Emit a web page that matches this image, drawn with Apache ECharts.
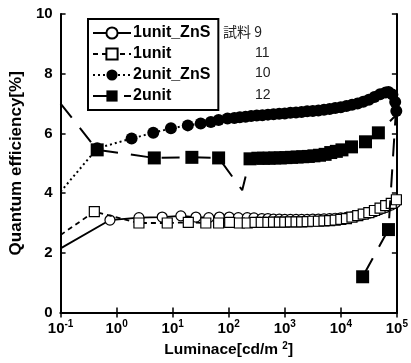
<!DOCTYPE html>
<html>
<head>
<meta charset="utf-8">
<script src="https://cdn.jsdelivr.net/npm/echarts@6/dist/echarts.min.js"></script>
<style>html,body{margin:0;padding:0;background:#fff;}#c{width:411px;height:363px;}</style>
</head>
<body>
<div id="c"></div>
<script>
// ---- data ----
var seriesNames = ['1unit_ZnS', '1unit', '2unit_ZnS', '2unit'];
var sampleLabels = ['試料 9', '11', '10', '12'];
var yTicks = [0, 2, 4, 6, 8, 10];

var u1znsX = [0.1, 0.76, 2.5, 6.5, 14, 26, 44, 68, 102, 148, 214, 282, 390, 500, 630, 800, 1000, 1260, 1590, 2000, 2510, 3160, 3980, 5010, 6310, 7940, 10000, 12600, 15800, 20000, 25100, 31600, 39800, 50100, 63100, 79400, 95000];
var u1znsY = [2.15, 3.1, 3.18, 3.2, 3.24, 3.2, 3.18, 3.2, 3.2, 3.18, 3.18, 3.17, 3.15, 3.15, 3.13, 3.13, 3.12, 3.12, 3.12, 3.12, 3.12, 3.13, 3.13, 3.14, 3.15, 3.16, 3.17, 3.19, 3.21, 3.24, 3.28, 3.33, 3.38, 3.45, 3.52, 3.6, 3.68];
var u1znsNoMark = [0];

var u1X = [0.1, 0.4, 2.5, 8, 19, 39, 66, 104, 155, 214, 295, 380, 500, 630, 800, 1000, 1260, 1590, 2000, 2510, 3160, 3980, 5010, 6310, 7940, 10000, 12600, 15800, 20000, 25100, 31600, 39800, 50100, 63100, 79400, 98000];
var u1Y = [2.6, 3.38, 3.0, 3.0, 3.02, 3.0, 3.0, 3.02, 3.0, 3.0, 3.02, 3.02, 3.02, 3.03, 3.03, 3.03, 3.04, 3.04, 3.04, 3.05, 3.06, 3.06, 3.07, 3.08, 3.1, 3.12, 3.15, 3.2, 3.25, 3.3, 3.35, 3.42, 3.5, 3.58, 3.66, 3.78];
var u1NoMark = [0];

var u2znsX = [0.1, 0.45, 1.85, 4.5, 9.3, 18.6, 31.6, 48, 66, 95, 126, 158, 200, 251, 316, 398, 501, 631, 794, 1000, 1259, 1585, 1995, 2512, 3162, 3981, 5012, 6310, 7943, 10000, 12589, 15849, 19953, 25119, 31623, 39811, 50119, 63096, 70795, 83176, 93325, 97724];
var u2znsY = [4.05, 5.5, 5.83, 6.02, 6.17, 6.27, 6.33, 6.38, 6.45, 6.5, 6.52, 6.54, 6.56, 6.58, 6.6, 6.61, 6.63, 6.64, 6.66, 6.67, 6.69, 6.7, 6.72, 6.74, 6.75, 6.77, 6.79, 6.82, 6.85, 6.88, 6.92, 6.96, 7.0, 7.06, 7.13, 7.22, 7.31, 7.37, 7.39, 7.3, 7.05, 6.75];
var u2znsNoMark = [0];

var u2X = [0.1, 0.45, 4.7, 22, 66, 174, 240, 331, 417, 525, 661, 832, 1047, 1318, 1660, 2089, 2630, 3311, 4169, 5248, 6607, 8318, 10471, 15488, 27542, 46774, 95000, 70800, 24500];
var u2Y = [7.0, 5.45, 5.18, 5.2, 5.18, 4.1, 5.15, 5.17, 5.17, 5.17, 5.18, 5.18, 5.19, 5.2, 5.21, 5.22, 5.23, 5.25, 5.27, 5.3, 5.36, 5.4, 5.45, 5.55, 5.72, 6.02, 6.6, 2.78, 1.2];
var u2NoMark = [0, 5, 26];

function build(xs, ys, noMark) {
  return xs.map(function (x, i) {
    var d = { value: [x, ys[i]] };
    if (noMark.indexOf(i) >= 0) d.symbol = 'none';
    return d;
  });
}

var FONT = '"Liberation Sans", Arial, sans-serif';
var chart = echarts.init(document.getElementById('c'));

function supLabel(v) {
  var e = Math.round(Math.log10(v));
  return '{b|10}{s|' + e + '}';
}

var axisLineStyle = { color: '#000', width: 2 };

chart.setOption({
  animation: false,
  backgroundColor: '#fff',
  grid: { left: 58, right: 13, top: 14, bottom: 50, containLabel: false },
  legend: {
    data: seriesNames,
    orient: 'vertical',
    left: 88,
    top: 19,
    padding: [6, 8, 6, 4],
    itemGap: 5,
    itemWidth: 38,
    itemHeight: 14,
    borderColor: '#000',
    borderWidth: 2,
    backgroundColor: '#fff',
    textStyle: { fontFamily: FONT, fontSize: 16, fontWeight: 'bold', color: '#000', padding: [0, 0, 0, -3] }
  },
  xAxis: [{
    type: 'log', logBase: 10, min: 0.1, max: 100000, splitNumber: 6,
    position: 'bottom',
    axisLine: { lineStyle: axisLineStyle },
    axisTick: { inside: true, length: 5, lineStyle: { color: '#000', width: 1.5 } },
    minorTick: { show: false },
    splitLine: { show: false },
    axisLabel: {
      margin: 7,
      formatter: supLabel,
      rich: {
        b: { fontFamily: FONT, fontSize: 15, fontWeight: 'bold', color: '#000', lineHeight: 18 },
        s: { fontFamily: FONT, fontSize: 10, fontWeight: 'bold', color: '#000', lineHeight: 11, verticalAlign: 'top' }
      }
    },
    name: '{a|Luminace[cd/m }{s|2}{a|]}',
    nameLocation: 'middle',
    nameGap: 24,
    nameTextStyle: {
      rich: {
        a: { fontFamily: FONT, fontSize: 15.5, fontWeight: 'bold', color: '#000', lineHeight: 18 },
        s: { fontFamily: FONT, fontSize: 10, fontWeight: 'bold', color: '#000', lineHeight: 11, verticalAlign: 'top' }
      }
    }
  }, {
    type: 'log', logBase: 10, min: 0.1, max: 100000, splitNumber: 6,
    position: 'top',
    axisLine: { lineStyle: axisLineStyle },
    axisTick: { inside: true, length: 5, lineStyle: { color: '#000', width: 1.5 } },
    axisLabel: { show: false },
    splitLine: { show: false }
  }],
  yAxis: [{
    type: 'value', min: 0, max: 10, interval: 2,
    position: 'left',
    axisLine: { show: true, lineStyle: axisLineStyle },
    axisTick: { show: true, inside: true, length: 5, lineStyle: { color: '#000', width: 1.5 } },
    splitLine: { show: false },
    axisLabel: { margin: 8, fontFamily: FONT, fontSize: 15, fontWeight: 'bold', color: '#000',
      formatter: function (v) { return yTicks.indexOf(v) >= 0 ? String(v) : ''; } },
    name: 'Quantum efficiency[%]',
    nameLocation: 'middle',
    nameRotate: 90,
    nameGap: 31,
    nameTextStyle: { fontFamily: FONT, fontSize: 17, fontWeight: 'bold', color: '#000' }
  }, {
    type: 'value', min: 0, max: 10, interval: 2,
    position: 'right',
    axisLine: { show: true, lineStyle: axisLineStyle },
    axisTick: { show: true, inside: true, length: 5, lineStyle: { color: '#000', width: 1.5 } },
    axisLabel: { show: false },
    splitLine: { show: false }
  }],
  series: [{
    name: seriesNames[0], type: 'line', color: '#000',
    data: build(u1znsX, u1znsY, u1znsNoMark),
    symbol: 'circle', symbolSize: 10,
    itemStyle: { color: '#fff', borderColor: '#000', borderWidth: 1.2 },
    lineStyle: { color: '#000', width: 1.8, type: 'solid' },
    z: 2
  }, {
    name: seriesNames[1], type: 'line', color: '#000',
    data: build(u1X, u1Y, u1NoMark),
    symbol: 'rect', symbolSize: 10,
    itemStyle: { color: '#fff', borderColor: '#000', borderWidth: 1.2 },
    lineStyle: { color: '#000', width: 1.8, type: [5, 4] },
    z: 3
  }, {
    name: seriesNames[2], type: 'line', color: '#000',
    data: build(u2znsX, u2znsY, u2znsNoMark),
    symbol: 'circle', symbolSize: 12,
    itemStyle: { color: '#000', borderColor: '#000', borderWidth: 0 },
    lineStyle: { color: '#000', width: 2, type: [2, 3] },
    z: 4
  }, {
    name: seriesNames[3], type: 'line', color: '#000',
    data: build(u2X, u2Y, u2NoMark),
    symbol: 'rect', symbolSize: 13,
    itemStyle: { color: '#000', borderColor: '#000', borderWidth: 0 },
    lineStyle: { color: '#000', width: 2, type: [18, 13] },
    z: 5
  }],
  graphic: [
    { type: 'text', left: 223, top: 25, style: { text: sampleLabels[0], fontFamily: '"Noto Sans CJK JP", ' + FONT, fontSize: 14, fill: '#222' } },
    { type: 'text', left: 255, top: 46, style: { text: sampleLabels[1], fontFamily: FONT, fontSize: 14, fill: '#222' } },
    { type: 'text', left: 255, top: 66, style: { text: sampleLabels[2], fontFamily: FONT, fontSize: 14, fill: '#222' } },
    { type: 'text', left: 255, top: 88, style: { text: sampleLabels[3], fontFamily: FONT, fontSize: 14, fill: '#222' } }
  ]
});
</script>
</body>
</html>
